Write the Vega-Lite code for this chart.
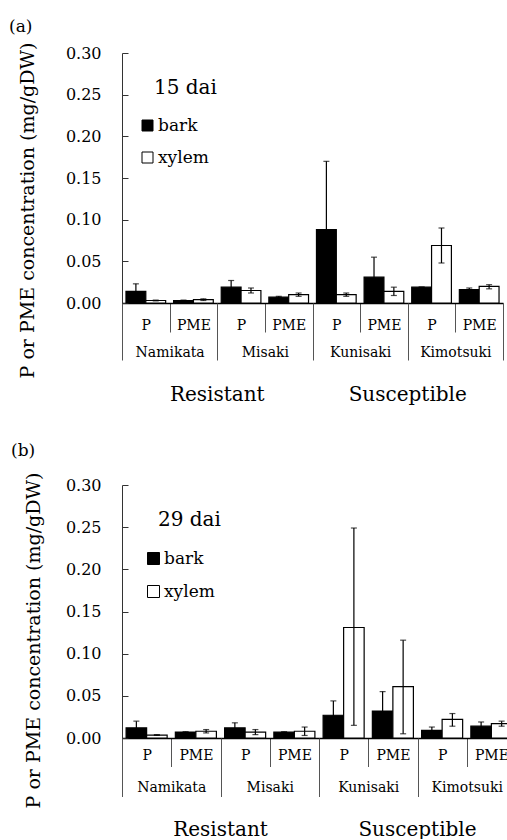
{
  "$schema": "https://vega.github.io/schema/vega-lite/v6.json",
  "padding": {"left": 8, "top": 18, "right": 0, "bottom": 0},
  "config": {
    "font": "DejaVu Serif",
    "view": {"stroke": null},
    "axis": {"labelColor": "black", "titleColor": "black", "labelFont": "DejaVu Serif", "titleFont": "DejaVu Serif"},
    "legend": {"labelFont": "DejaVu Serif", "titleFont": "DejaVu Serif"}
  },
  "datasets": {
    "a": [
      {"cultivar": "Namikata", "measure": "P", "key": "Namikata P", "group": "Resistant", "tissue": "bark", "value": 0.014, "lo": 0.005, "hi": 0.023},
      {"cultivar": "Namikata", "measure": "P", "key": "Namikata P", "group": "Resistant", "tissue": "xylem", "value": 0.003, "lo": 0.0025, "hi": 0.0035},
      {"cultivar": "Namikata", "measure": "PME", "key": "Namikata PME", "group": "Resistant", "tissue": "bark", "value": 0.003, "lo": 0.0025, "hi": 0.0035},
      {"cultivar": "Namikata", "measure": "PME", "key": "Namikata PME", "group": "Resistant", "tissue": "xylem", "value": 0.004, "lo": 0.003, "hi": 0.005},
      {"cultivar": "Misaki", "measure": "P", "key": "Misaki P", "group": "Resistant", "tissue": "bark", "value": 0.019, "lo": 0.011, "hi": 0.027},
      {"cultivar": "Misaki", "measure": "P", "key": "Misaki P", "group": "Resistant", "tissue": "xylem", "value": 0.015, "lo": 0.012, "hi": 0.018},
      {"cultivar": "Misaki", "measure": "PME", "key": "Misaki PME", "group": "Resistant", "tissue": "bark", "value": 0.007, "lo": 0.006, "hi": 0.008},
      {"cultivar": "Misaki", "measure": "PME", "key": "Misaki PME", "group": "Resistant", "tissue": "xylem", "value": 0.010, "lo": 0.008, "hi": 0.012},
      {"cultivar": "Kunisaki", "measure": "P", "key": "Kunisaki P", "group": "Susceptible", "tissue": "bark", "value": 0.088, "lo": 0.006, "hi": 0.170},
      {"cultivar": "Kunisaki", "measure": "P", "key": "Kunisaki P", "group": "Susceptible", "tissue": "xylem", "value": 0.010, "lo": 0.008, "hi": 0.012},
      {"cultivar": "Kunisaki", "measure": "PME", "key": "Kunisaki PME", "group": "Susceptible", "tissue": "bark", "value": 0.031, "lo": 0.007, "hi": 0.055},
      {"cultivar": "Kunisaki", "measure": "PME", "key": "Kunisaki PME", "group": "Susceptible", "tissue": "xylem", "value": 0.014, "lo": 0.009, "hi": 0.019},
      {"cultivar": "Kimotsuki", "measure": "P", "key": "Kimotsuki P", "group": "Susceptible", "tissue": "bark", "value": 0.019, "lo": 0.019, "hi": 0.019},
      {"cultivar": "Kimotsuki", "measure": "P", "key": "Kimotsuki P", "group": "Susceptible", "tissue": "xylem", "value": 0.069, "lo": 0.048, "hi": 0.090},
      {"cultivar": "Kimotsuki", "measure": "PME", "key": "Kimotsuki PME", "group": "Susceptible", "tissue": "bark", "value": 0.016, "lo": 0.014, "hi": 0.018},
      {"cultivar": "Kimotsuki", "measure": "PME", "key": "Kimotsuki PME", "group": "Susceptible", "tissue": "xylem", "value": 0.020, "lo": 0.017, "hi": 0.022}
    ],
    "b": [
      {"cultivar": "Namikata", "measure": "P", "key": "Namikata P", "group": "Resistant", "tissue": "bark", "value": 0.012, "lo": 0.004, "hi": 0.020},
      {"cultivar": "Namikata", "measure": "P", "key": "Namikata P", "group": "Resistant", "tissue": "xylem", "value": 0.0035, "lo": 0.003, "hi": 0.004},
      {"cultivar": "Namikata", "measure": "PME", "key": "Namikata PME", "group": "Resistant", "tissue": "bark", "value": 0.007, "lo": 0.0065, "hi": 0.0075},
      {"cultivar": "Namikata", "measure": "PME", "key": "Namikata PME", "group": "Resistant", "tissue": "xylem", "value": 0.008, "lo": 0.006, "hi": 0.010},
      {"cultivar": "Misaki", "measure": "P", "key": "Misaki P", "group": "Resistant", "tissue": "bark", "value": 0.012, "lo": 0.006, "hi": 0.018},
      {"cultivar": "Misaki", "measure": "P", "key": "Misaki P", "group": "Resistant", "tissue": "xylem", "value": 0.007, "lo": 0.004, "hi": 0.010},
      {"cultivar": "Misaki", "measure": "PME", "key": "Misaki PME", "group": "Resistant", "tissue": "bark", "value": 0.007, "lo": 0.0065, "hi": 0.0075},
      {"cultivar": "Misaki", "measure": "PME", "key": "Misaki PME", "group": "Resistant", "tissue": "xylem", "value": 0.008, "lo": 0.003, "hi": 0.013},
      {"cultivar": "Kunisaki", "measure": "P", "key": "Kunisaki P", "group": "Susceptible", "tissue": "bark", "value": 0.027, "lo": 0.010, "hi": 0.044},
      {"cultivar": "Kunisaki", "measure": "P", "key": "Kunisaki P", "group": "Susceptible", "tissue": "xylem", "value": 0.131, "lo": 0.015, "hi": 0.249},
      {"cultivar": "Kunisaki", "measure": "PME", "key": "Kunisaki PME", "group": "Susceptible", "tissue": "bark", "value": 0.032, "lo": 0.009, "hi": 0.055},
      {"cultivar": "Kunisaki", "measure": "PME", "key": "Kunisaki PME", "group": "Susceptible", "tissue": "xylem", "value": 0.061, "lo": 0.005, "hi": 0.116},
      {"cultivar": "Kimotsuki", "measure": "P", "key": "Kimotsuki P", "group": "Susceptible", "tissue": "bark", "value": 0.009, "lo": 0.005, "hi": 0.013},
      {"cultivar": "Kimotsuki", "measure": "P", "key": "Kimotsuki P", "group": "Susceptible", "tissue": "xylem", "value": 0.022, "lo": 0.014, "hi": 0.029},
      {"cultivar": "Kimotsuki", "measure": "PME", "key": "Kimotsuki PME", "group": "Susceptible", "tissue": "bark", "value": 0.014, "lo": 0.009, "hi": 0.019},
      {"cultivar": "Kimotsuki", "measure": "PME", "key": "Kimotsuki PME", "group": "Susceptible", "tissue": "xylem", "value": 0.017, "lo": 0.014, "hi": 0.020}
    ]
  },
  "concat": [
    {
      "title": {"text": "(a)", "anchor": "start", "frame": "bounds", "fontSize": 17, "fontWeight": "normal", "font": "DejaVu Serif", "dx": -9, "offset": 6},
      "width": 381,
      "height": 250,
      "data": {"name": "a"},
      "layer": [
        {
          "mark": {"type": "bar", "stroke": "black", "strokeWidth": 1.2},
          "encoding": {
            "x": {"field": "key", "type": "nominal", "sort": null, "scale": {"paddingInner": 0, "paddingOuter": 0},
              "axis": {"orient": "bottom", "title": null, "labelExpr": "split(datum.label, ' ')[1]", "labelAngle": 0, "domain": true, "domainColor": "black", "domainWidth": 1.5, "ticks": true, "tickBand": "extent", "tickSize": 29, "tickColor": "#555", "labelBaseline": "middle", "labelPadding": -7, "labelFontSize": 14, "labelFont": "DejaVu Serif"}},
            "xOffset": {"field": "tissue", "type": "nominal", "sort": ["bark", "xylem"], "scale": {"paddingInner": 0, "paddingOuter": 0.2}},
            "y": {"field": "value", "type": "quantitative", "scale": {"domain": [0, 0.3], "nice": false},
              "axis": {"title": "P or PME concentration (mg/gDW)", "titleFontSize": 19, "titleFontWeight": "normal", "titleFont": "DejaVu Serif", "titleX": -85, "titleY": 157, "titleBaseline": "bottom", "values": [0, 0.05, 0.1, 0.15, 0.2, 0.25, 0.3], "format": ".2f", "tickSize": -6, "labelPadding": 27, "grid": false, "labelFontSize": 16, "labelFont": "DejaVu Serif", "domainColor": "#333", "tickColor": "#333"}},
            "fill": {"field": "tissue", "type": "nominal", "scale": {"domain": ["bark", "xylem"], "range": ["black", "white"]},
              "legend": {"title": "15 dai", "orient": "none", "legendX": 32, "legendY": 25, "titleFont": "DejaVu Serif", "titleFontSize": 20, "titleFontWeight": "normal", "titleColor": "black", "titlePadding": 19, "symbolType": "square", "symbolSize": 121, "symbolStrokeColor": "black", "symbolStrokeWidth": 1, "symbolOffset": -15, "labelFont": "DejaVu Serif", "labelFontSize": 17, "labelColor": "black", "labelOffset": 2, "rowPadding": 14}}
          }
        },
        {
          "mark": {"type": "rule", "color": "black", "strokeWidth": 1.2},
          "encoding": {
            "x": {"field": "key", "type": "nominal", "sort": null, "scale": {"paddingInner": 0, "paddingOuter": 0}, "axis": null},
            "xOffset": {"field": "tissue", "type": "nominal", "sort": ["bark", "xylem"], "scale": {"paddingInner": 0, "paddingOuter": 0.2}},
            "y": {"field": "lo", "type": "quantitative"}, "y2": {"field": "hi"}}
        },
        {
          "mark": {"type": "tick", "orient": "horizontal", "color": "black", "size": 6, "thickness": 1.2},
          "encoding": {
            "x": {"field": "key", "type": "nominal", "sort": null, "scale": {"paddingInner": 0, "paddingOuter": 0}, "axis": null},
            "xOffset": {"field": "tissue", "type": "nominal", "sort": ["bark", "xylem"], "scale": {"paddingInner": 0, "paddingOuter": 0.2}},
            "y": {"field": "lo", "type": "quantitative"}}
        },
        {
          "mark": {"type": "tick", "orient": "horizontal", "color": "black", "size": 6, "thickness": 1.2},
          "encoding": {
            "x": {"field": "key", "type": "nominal", "sort": null, "scale": {"paddingInner": 0, "paddingOuter": 0}, "axis": null},
            "xOffset": {"field": "tissue", "type": "nominal", "sort": ["bark", "xylem"], "scale": {"paddingInner": 0, "paddingOuter": 0.2}},
            "y": {"field": "hi", "type": "quantitative"}}
        },
        {
          "mark": {"type": "bar", "opacity": 0},
          "encoding": {
            "x": {"field": "cultivar", "type": "nominal", "sort": null, "scale": {"paddingInner": 0, "paddingOuter": 0},
              "axis": {"orient": "bottom", "title": null, "domain": false, "tickBand": "extent", "tickSize": 57, "tickColor": "#555", "labelAngle": 0, "labelBaseline": "middle", "labelPadding": -8, "labelFontSize": 14, "labelFont": "DejaVu Serif"}},
            "y": {"datum": 0}
          }
        },
        {
          "mark": {"type": "bar", "opacity": 0},
          "encoding": {
            "x": {"field": "group", "type": "nominal", "sort": null, "scale": {"paddingInner": 0, "paddingOuter": 0},
              "axis": {"orient": "bottom", "title": null, "domain": false, "ticks": false, "labelAngle": 0, "labelBaseline": "middle", "labelPadding": 91, "labelFontSize": 20, "labelFont": "DejaVu Serif"}},
            "y": {"datum": 0}
          }
        }
      ],
      "resolve": {"scale": {"x": "independent", "xOffset": "independent"}, "axis": {"x": "independent"}}
    },
    {
      "title": {"text": "(b)", "anchor": "start", "frame": "bounds", "fontSize": 17, "fontWeight": "normal", "font": "DejaVu Serif", "dx": -13, "offset": 12},
      "width": 394,
      "height": 253,
      "data": {"name": "b"},
      "layer": [
        {
          "mark": {"type": "bar", "stroke": "black", "strokeWidth": 1.2},
          "encoding": {
            "x": {"field": "key", "type": "nominal", "sort": null, "scale": {"paddingInner": 0, "paddingOuter": 0},
              "axis": {"orient": "bottom", "title": null, "labelExpr": "split(datum.label, ' ')[1]", "labelAngle": 0, "domain": true, "domainColor": "black", "domainWidth": 1.5, "ticks": true, "tickBand": "extent", "tickSize": 28.5, "tickColor": "#555", "labelBaseline": "middle", "labelPadding": -11, "labelFontSize": 14, "labelFont": "DejaVu Serif"}},
            "xOffset": {"field": "tissue", "type": "nominal", "sort": ["bark", "xylem"], "scale": {"paddingInner": 0, "paddingOuter": 0.2}},
            "y": {"field": "value", "type": "quantitative", "scale": {"domain": [0, 0.3], "nice": false},
              "axis": {"title": "P or PME concentration (mg/gDW)", "titleFontSize": 19, "titleFontWeight": "normal", "titleFont": "DejaVu Serif", "titleX": -79, "titleY": 155, "titleBaseline": "bottom", "values": [0, 0.05, 0.1, 0.15, 0.2, 0.25, 0.3], "format": ".2f", "tickSize": -6, "labelPadding": 27, "grid": false, "labelFontSize": 16, "labelFont": "DejaVu Serif", "domainColor": "#333", "tickColor": "#333"}},
            "fill": {"field": "tissue", "type": "nominal", "scale": {"domain": ["bark", "xylem"], "range": ["black", "white"]},
              "legend": {"title": "29 dai", "orient": "none", "legendX": 36, "legendY": 25, "titleFont": "DejaVu Serif", "titleFontSize": 20, "titleFontWeight": "normal", "titleColor": "black", "titlePadding": 20, "symbolType": "square", "symbolSize": 144, "symbolStrokeColor": "black", "symbolStrokeWidth": 1, "symbolOffset": -13, "labelFont": "DejaVu Serif", "labelFontSize": 17, "labelColor": "black", "labelOffset": 2, "rowPadding": 15}}
          }
        },
        {
          "mark": {"type": "rule", "color": "black", "strokeWidth": 1.2},
          "encoding": {
            "x": {"field": "key", "type": "nominal", "sort": null, "scale": {"paddingInner": 0, "paddingOuter": 0}, "axis": null},
            "xOffset": {"field": "tissue", "type": "nominal", "sort": ["bark", "xylem"], "scale": {"paddingInner": 0, "paddingOuter": 0.2}},
            "y": {"field": "lo", "type": "quantitative"}, "y2": {"field": "hi"}}
        },
        {
          "mark": {"type": "tick", "orient": "horizontal", "color": "black", "size": 6, "thickness": 1.2},
          "encoding": {
            "x": {"field": "key", "type": "nominal", "sort": null, "scale": {"paddingInner": 0, "paddingOuter": 0}, "axis": null},
            "xOffset": {"field": "tissue", "type": "nominal", "sort": ["bark", "xylem"], "scale": {"paddingInner": 0, "paddingOuter": 0.2}},
            "y": {"field": "lo", "type": "quantitative"}}
        },
        {
          "mark": {"type": "tick", "orient": "horizontal", "color": "black", "size": 6, "thickness": 1.2},
          "encoding": {
            "x": {"field": "key", "type": "nominal", "sort": null, "scale": {"paddingInner": 0, "paddingOuter": 0}, "axis": null},
            "xOffset": {"field": "tissue", "type": "nominal", "sort": ["bark", "xylem"], "scale": {"paddingInner": 0, "paddingOuter": 0.2}},
            "y": {"field": "hi", "type": "quantitative"}}
        },
        {
          "mark": {"type": "bar", "opacity": 0},
          "encoding": {
            "x": {"field": "cultivar", "type": "nominal", "sort": null, "scale": {"paddingInner": 0, "paddingOuter": 0},
              "axis": {"orient": "bottom", "title": null, "domain": false, "tickBand": "extent", "tickSize": 58.5, "tickColor": "#555", "labelAngle": 0, "labelBaseline": "middle", "labelPadding": -9, "labelFontSize": 14, "labelFont": "DejaVu Serif"}},
            "y": {"datum": 0}
          }
        },
        {
          "mark": {"type": "bar", "opacity": 0},
          "encoding": {
            "x": {"field": "group", "type": "nominal", "sort": null, "scale": {"paddingInner": 0, "paddingOuter": 0},
              "axis": {"orient": "bottom", "title": null, "domain": false, "ticks": false, "labelAngle": 0, "labelBaseline": "middle", "labelPadding": 91, "labelFontSize": 20, "labelFont": "DejaVu Serif"}},
            "y": {"datum": 0}
          }
        }
      ],
      "resolve": {"scale": {"x": "independent", "xOffset": "independent"}, "axis": {"x": "independent"}}
    }
  ],
  "columns": 1,
  "align": "none",
  "spacing": 38,
  "resolve": {"scale": {"fill": "independent", "y": "independent"}, "legend": {"fill": "independent"}}
}
